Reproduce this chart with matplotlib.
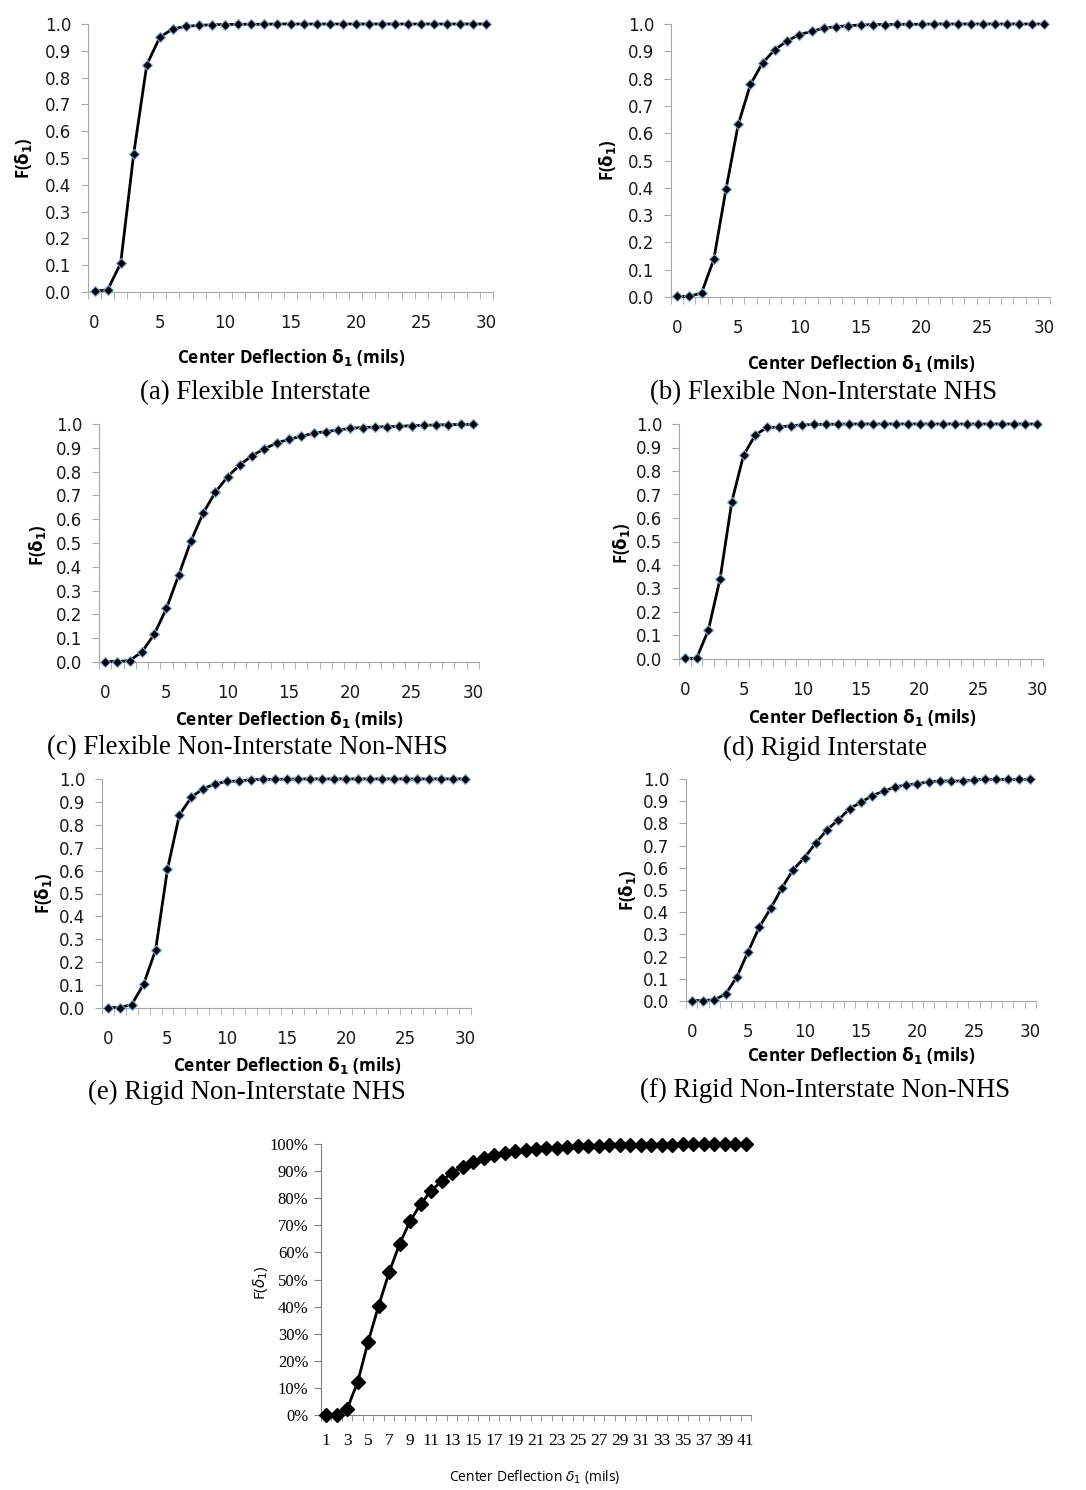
import matplotlib.pyplot as plt
import numpy as np
from matplotlib.ticker import FixedLocator, PercentFormatter

W, H = 1086, 1490

# deflection values (mils) for the six small panels
defl = np.arange(0, 31)

flex_interstate = [0.003, 0.008, 0.107, 0.516, 0.848, 0.951, 0.982, 0.991, 0.995, 0.997,
                   0.998, 0.999, 0.999, 0.999, 1.0, 1.0, 1.0, 1.0, 1.0, 1.0,
                   1.0, 1.0, 1.0, 1.0, 1.0, 1.0, 1.0, 1.0, 1.0, 1.0, 1.0]
flex_nonint_nhs = [0.002, 0.002, 0.015, 0.138, 0.395, 0.632, 0.779, 0.858, 0.906, 0.938,
                   0.961, 0.973, 0.985, 0.990, 0.994, 0.996, 0.998, 0.998, 0.999, 0.999,
                   0.999, 1.0, 1.0, 1.0, 1.0, 1.0, 1.0, 1.0, 1.0, 1.0, 1.0]
flex_nonint_nonnhs = [0.002, 0.002, 0.006, 0.042, 0.116, 0.225, 0.365, 0.508, 0.626, 0.714,
                      0.779, 0.829, 0.867, 0.896, 0.920, 0.936, 0.948, 0.961, 0.968, 0.975,
                      0.982, 0.985, 0.987, 0.989, 0.990, 0.993, 0.994, 0.996, 0.997, 0.998, 0.998]
rigid_interstate = [0.003, 0.003, 0.123, 0.342, 0.670, 0.868, 0.953, 0.986, 0.986, 0.993,
                    0.996, 0.998, 0.999, 0.999, 1.0, 1.0, 1.0, 1.0, 1.0, 1.0,
                    1.0, 1.0, 1.0, 1.0, 1.0, 1.0, 1.0, 1.0, 1.0, 1.0, 1.0]
rigid_nonint_nhs = [0.002, 0.002, 0.015, 0.105, 0.253, 0.606, 0.843, 0.920, 0.958, 0.978,
                    0.990, 0.991, 0.997, 0.998, 0.999, 0.999, 1.0, 1.0, 1.0, 1.0,
                    1.0, 1.0, 1.0, 1.0, 1.0, 1.0, 1.0, 1.0, 1.0, 1.0, 1.0]
rigid_nonint_nonnhs = [0.002, 0.002, 0.006, 0.030, 0.108, 0.222, 0.334, 0.417, 0.510, 0.592,
                       0.646, 0.712, 0.772, 0.816, 0.867, 0.895, 0.925, 0.945, 0.964, 0.973,
                       0.979, 0.987, 0.991, 0.991, 0.991, 0.996, 0.998, 0.998, 0.998, 0.998, 0.998]

captions = ["(a) Flexible Interstate", "(b) Flexible Non-Interstate NHS",
            "(c) Flexible Non-Interstate Non-NHS", "(d) Rigid Interstate",
            "(e) Rigid Non-Interstate NHS", "(f) Rigid Non-Interstate Non-NHS"]

# overall panel
defl_all = np.arange(1, 42)
all_sections = [0.0, 0.0, 0.023, 0.122, 0.271, 0.404, 0.527, 0.632, 0.716, 0.778,
                0.827, 0.863, 0.894, 0.916, 0.932, 0.947, 0.958, 0.967, 0.973, 0.978,
                0.982, 0.984, 0.986, 0.989, 0.991, 0.993, 0.994, 0.995, 0.996, 0.997,
                0.997, 0.998, 0.998, 0.998, 0.999, 0.999, 0.999, 1.0, 1.0, 1.0, 1.0]

SANS = ['Open Sans', 'DejaVu Sans']
TICKSANS = ['DejaVu Sans']
SERIF = ['Liberation Serif', 'DejaVu Serif']
GRAY = '#a6a6a6'


def px_axes(fig, left, top, right, bottom):
    return fig.add_axes([left / W, 1 - bottom / H, (right - left) / W, (bottom - top) / H])


def ftext(fig, x, y, s, **kw):
    fig.text(x / W, 1 - y / H, s, ha='center', va='center', **kw)


fig = plt.figure(figsize=(W / 100, H / 100), dpi=100)

# rect (l, t, r, b), caption pos, xlabel pos, ylabel pos
panels = [
    (flex_interstate, (88, 24, 493, 292), (255, 393), (291, 357), (23, 158)),
    (flex_nonint_nhs, (671, 24, 1050, 297), (824, 393), (861, 363), (608, 160)),
    (flex_nonint_nonnhs, (99, 424, 479, 662), (247, 748), (289, 720), (37, 545)),
    (rigid_interstate, (679, 424, 1043, 659), (825, 748), (862, 717), (622, 543)),
    (rigid_nonint_nhs, (102, 779, 471, 1008), (247, 1092), (287, 1065), (43, 893)),
    (rigid_nonint_nonnhs, (686, 779, 1036, 1001), (825, 1090), (861, 1056), (627, 890)),
]

for (vals, rect, cpos, xpos, ypos), cap in zip(panels, captions):
    ax = px_axes(fig, *rect)
    ax.plot(defl, vals, color='black', lw=2, marker='D', ms=5.5,
            mfc='black', mec='#7fa9d8', mew=0.8, clip_on=False, zorder=3)
    ax.set_xlim(-0.5, 30.5)
    ax.set_ylim(0, 1.0)
    for s in ['top', 'right']:
        ax.spines[s].set_visible(False)
    ax.spines['left'].set_color(GRAY)
    ax.spines['bottom'].set_color(GRAY)
    ax.set_yticks(np.arange(0, 1.01, 0.1))
    ax.set_yticklabels([f'{v:.1f}' for v in np.arange(0, 1.01, 0.1)])
    ax.set_xticks(np.arange(0, 31, 5))
    ax.xaxis.set_minor_locator(FixedLocator(np.arange(-0.5, 31, 1)))
    ax.tick_params(axis='y', length=5, color=GRAY, pad=7, labelsize=12)
    ax.tick_params(axis='x', which='major', length=0, pad=16, labelsize=12)
    ax.tick_params(axis='x', which='minor', length=5, color=GRAY)
    for lab in ax.get_xticklabels() + ax.get_yticklabels():
        lab.set_family(TICKSANS)
        lab.set_color('#1a1a1a')
    ftext(fig, xpos[0], xpos[1], r'Center Deflection $\mathbf{\delta_1}$ (mils)',
          family=SANS, fontsize=12.3, fontweight='bold')
    ftext(fig, ypos[0], ypos[1], r'F($\mathbf{\delta_1}$)', family=SANS,
          fontsize=12, fontweight='bold', rotation=90)
    ftext(fig, cpos[0], cpos[1], cap, family=SERIF, fontsize=19.3)

# bottom overall chart
ax = px_axes(fig, 321, 1144, 751, 1415)
ax.plot(defl_all, all_sections, color='black', lw=2, marker='D', ms=7.5,
        mfc='black', mec='black', clip_on=False, zorder=3)
ax.set_xlim(0.5, 41.5)
ax.set_ylim(0, 1.0)
for s in ['top', 'right']:
    ax.spines[s].set_visible(False)
ax.spines['left'].set_color('#808080')
ax.spines['bottom'].set_color('#808080')
ax.set_yticks(np.arange(0, 1.01, 0.1))
ax.yaxis.set_major_formatter(PercentFormatter(1.0, decimals=0))
ax.set_xticks(np.arange(1, 42, 2))
ax.xaxis.set_minor_locator(FixedLocator(np.arange(0.5, 42, 1)))
ax.tick_params(axis='y', length=5, color='#808080', pad=4, labelsize=12)
ax.tick_params(axis='x', which='major', length=0, pad=13, labelsize=12.5)
ax.tick_params(axis='x', which='minor', length=4, color='#808080')
for lab in ax.get_xticklabels() + ax.get_yticklabels():
    lab.set_family(SERIF)
ftext(fig, 535, 1477, r'Center Deflection $\delta_1$ (mils)', family=SANS, fontsize=10)
ftext(fig, 260, 1283, r'F($\delta_1$)', family=SANS, fontsize=11, rotation=90)

fig.savefig('out.png', dpi=100)
